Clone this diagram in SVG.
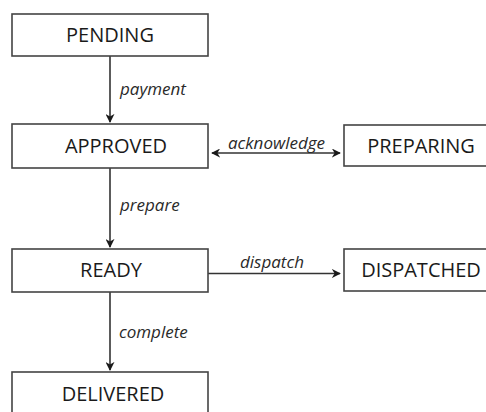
<svg xmlns="http://www.w3.org/2000/svg" width="486" height="412" viewBox="0 0 486 412">
<style>
.box{fill:#fff;stroke:#444;stroke-width:1.6}
.nt{font-family:"Open Sans","Noto Sans",sans-serif;font-size:20px;fill:#1a1a1a;text-anchor:middle}
.lb{font-family:"Open Sans","Noto Sans",sans-serif;font-size:17px;font-style:italic;fill:#2a2a2a}
.ln{stroke:#333;stroke-width:1.6;fill:none}
</style>
<defs>
<marker id="ah" viewBox="0 0 10 10" refX="9" refY="5" markerWidth="9" markerHeight="9" markerUnits="userSpaceOnUse" orient="auto-start-reverse">
<path d="M0,0 L10,5 L0,10 L3,5 z" fill="#1a1a1a"/>
</marker>
</defs>
<rect width="486" height="412" fill="#fff"/>
<g id="connectors">
<line class="ln" x1="110" y1="56" x2="110" y2="122" marker-end="url(#ah)"/>
<text class="lb" x="120" y="95">payment</text>
<line class="ln" x1="110" y1="168" x2="110" y2="247" marker-end="url(#ah)"/>
<text class="lb" x="120" y="211">prepare</text>
<line class="ln" x1="110" y1="292" x2="110" y2="370" marker-end="url(#ah)"/>
<text class="lb" x="119" y="338">complete</text>
<line class="ln" x1="212" y1="153" x2="340" y2="153" marker-start="url(#ah)" marker-end="url(#ah)"/>
<text class="lb" x="228" y="149">acknowledge</text>
<line class="ln" x1="208" y1="273.5" x2="340" y2="273.5" marker-end="url(#ah)"/>
<text class="lb" x="240" y="268">dispatch</text>
</g>
<g id="pending"><rect class="box" x="12" y="14" width="196" height="42"/><text class="nt" x="110" y="42">PENDING</text></g>
<g id="approved"><rect class="box" x="12" y="124" width="196" height="44"/><text class="nt" x="116" y="153">APPROVED</text></g>
<g id="preparing"><rect class="box" x="344" y="125" width="154" height="41"/><text class="nt" x="421" y="153">PREPARING</text></g>
<g id="ready"><rect class="box" x="12" y="249" width="196" height="43"/><text class="nt" x="111" y="277">READY</text></g>
<g id="dispatched"><rect class="box" x="344" y="249" width="154" height="42"/><text class="nt" x="421" y="277">DISPATCHED</text></g>
<g id="delivered"><rect class="box" x="12" y="372" width="196" height="44"/><text class="nt" x="113" y="401">DELIVERED</text></g>
</svg>
